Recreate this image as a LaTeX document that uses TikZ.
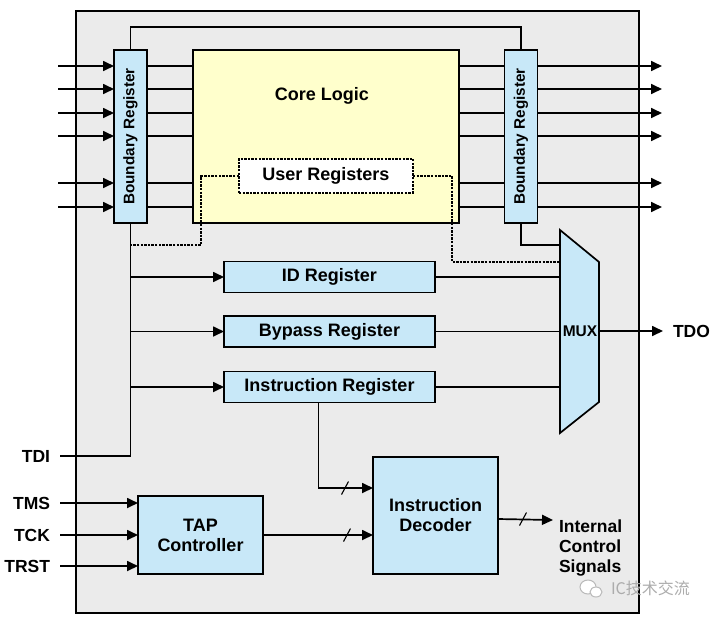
\documentclass[tikz,border=0pt]{standalone}
\usepackage{fontspec}
\setmainfont{Liberation Sans}
\newfontfamily\cjkfont{Noto Sans CJK SC}
\usetikzlibrary{arrows.meta}
\definecolor{chipgray}{HTML}{EBEBEB}
\definecolor{regblue}{HTML}{C8E8F8}
\definecolor{coreyellow}{HTML}{FFFFCC}

\begin{document}
\begin{tikzpicture}[x=1pt, y=-1pt, line width=1.7pt,
  every node/.style={font=\bfseries\fontsize{18}{20}\selectfont, inner sep=0pt, outer sep=0pt},
  reg/.style={draw, fill=regblue},
  breg/.style={reg, minimum width=33pt, minimum height=173pt, font=\bfseries\fontsize{15.3}{18}\selectfont},
  sig/.style={inner xsep=10pt, font=\bfseries\fontsize{17.5}{20}\selectfont},
  arr/.style={-{Triangle[length=11pt,width=10pt]}},
  dsh/.style={dash pattern=on 2.4pt off 1.2pt, line width=2pt},
  bus/.style={line width=1.1pt}]
  \useasboundingbox (0,0) rectangle (717,619);
  \draw[fill=chipgray, line width=2.2pt] (76,11) rectangle (639,613);

  % boundary scan cells and core
  \node[breg] (lbr) at (130.5,136.5) {\rotatebox{90}{Boundary Register}};
  \node[breg] (rbr) at (521,136.5) {\rotatebox{90}{Boundary Register}};
  \node[draw, fill=coreyellow, minimum width=266pt, minimum height=173pt] (core) at (326,136.5) {};
  \node (cltxt) at (322,96) {Core Logic};
  \node[draw, dsh, fill=white, minimum width=174pt, minimum height=34pt] (ureg) at (326,175.5) {User Registers};

  % mux
  \coordinate (mux-nw) at (560,230);
  \coordinate (mux-ne) at (599,262);
  \coordinate (mux-se) at (599,402);
  \coordinate (mux-sw) at (560,433);
  \draw[fill=regblue] (mux-nw) -- (mux-ne) -- (mux-se) -- (mux-sw) -- cycle;
  \node[font=\bfseries\fontsize{15.5}{18}\selectfont] (mux) at (580,331) {MUX};

  % data registers, decoder, TAP
  \node[reg, minimum width=211pt, minimum height=31pt] (idr) at (329.5,277) {ID Register};
  \node[reg, minimum width=211pt, minimum height=31pt] (byr) at (329.5,331.5) {Bypass Register};
  \node[reg, minimum width=211pt, minimum height=31pt] (inr) at (329.5,387) {Instruction Register};
  \node[reg, minimum width=125pt, minimum height=117pt, align=center] (dec) at (435.5,515.5) {Instruction\\Decoder};
  \node[reg, minimum width=125pt, minimum height=78pt, align=center] (tap) at (200.5,535) {TAP\\Controller};

  % pins
  \node[sig, anchor=east] (tdi) at (60,456) {TDI};
  \node[sig, anchor=east] (tms) at (60,503) {TMS};
  \node[sig, anchor=east] (tck) at (60,535) {TCK};
  \node[sig, anchor=east] (trst) at (60,566) {TRST};
  \node[sig, anchor=west] (tdo) at (663,331) {TDO};
  \node[sig, anchor=north west, align=left, inner xsep=0pt] (ics) at (559,520) {Internal\\Control\\Signals};

  % core I/O through the boundary cells
  \foreach \y in {66,89,113,136,183,207} {
    \draw[arr] (58,\y) -- (lbr.west |- 0,\y);
    \draw (lbr.east |- 0,\y) -- (core.west |- 0,\y);
    \draw (core.east |- 0,\y) -- (rbr.west |- 0,\y);
    \draw[arr] (rbr.east |- 0,\y) -- (662,\y);
  }
  \draw (lbr.north) -- (lbr.north |- 0,27) -| (rbr.north);

  % scan path
  \draw (tdi.east) -| (lbr.south);
  \draw[arr] (lbr.south |- idr) -- (idr.west);
  \draw[arr] (lbr.south |- byr) -- (byr.west);
  \draw[arr] (lbr.south |- inr) -- (inr.west);
  \draw[dsh] (ureg.west) -| (201,245) -- (lbr.south |- 0,245);
  \draw[dsh] (ureg.east) -| (452,262) -- (mux-nw |- 0,262);
  \draw (rbr.south) |- (mux-nw |- 0,245);
  \draw (idr.east) -- (idr.east -| mux-nw);
  \draw (byr.east) -- (byr.east -| mux-nw);
  \draw (inr.east) -- (inr.east -| mux-nw);
  \draw[arr] (mux-ne |- mux) -- (tdo.west);

  % control
  \draw[arr] (tms.east) -- (tms.east -| tap.west);
  \draw[arr] (tck.east) -- (tck.east -| tap.west);
  \draw[arr] (trst.east) -- (trst.east -| tap.west);
  \draw[arr] (tap.east) -- (tap.east -| dec.west);
  \draw[arr] ([xshift=-11pt]inr.south) |- (dec.west |- 0,488);
  \draw[arr] (dec.east |- 0,519) -- ([xshift=-6pt]ics.north west);
  \foreach \sx/\sy in {345/488, 347/535, 523/519}
    \draw[bus] (\sx-3.5,\sy+6.5) -- (\sx+3.5,\sy-6.5);

  % watermark
  \draw[gray!55, line width=1pt, fill=white] (588,587) ellipse (8 and 7);
  \draw[gray!55, line width=1pt, fill=white] (596,592) ellipse (6 and 5);
  \node[font=\cjkfont\fontsize{16}{16}\selectfont, text=gray!65, anchor=west] (wm) at (611,588) {IC技术交流};
\end{tikzpicture}
\end{document}
